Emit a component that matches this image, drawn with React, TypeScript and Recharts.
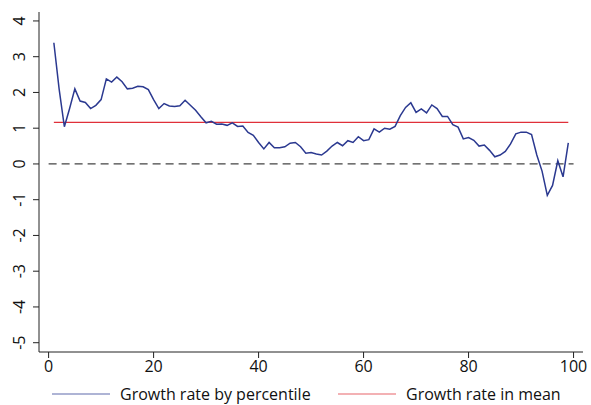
import React from 'react';
import { LineChart, Line, XAxis, YAxis, ReferenceLine, Legend } from 'recharts';

const percentiles = Array.from({ length: 99 }, (_, i) => i + 1);
const growthByPercentile = [
  3.39, 2.1, 1.04, 1.55, 2.1, 1.76, 1.72, 1.55, 1.64, 1.8,
  2.38, 2.29, 2.43, 2.3, 2.1, 2.12, 2.17, 2.16, 2.08, 1.8,
  1.55, 1.69, 1.62, 1.61, 1.63, 1.78, 1.64, 1.5, 1.32, 1.15,
  1.19, 1.11, 1.12, 1.08, 1.15, 1.05, 1.06, 0.88, 0.8, 0.6,
  0.42, 0.6, 0.45, 0.45, 0.48, 0.58, 0.6, 0.48, 0.3, 0.32,
  0.28, 0.25, 0.36, 0.5, 0.6, 0.51, 0.65, 0.6, 0.76, 0.65,
  0.68, 0.98, 0.89, 1.0, 0.97, 1.05, 1.35, 1.58, 1.71, 1.44,
  1.54, 1.43, 1.65, 1.55, 1.33, 1.33, 1.1, 1.03, 0.7, 0.74,
  0.66, 0.5, 0.53, 0.38, 0.2, 0.25, 0.35, 0.56, 0.84, 0.89,
  0.89, 0.82, 0.25, -0.2, -0.88, -0.6, 0.09, -0.36, 0.59,
];
const meanGrowth = 1.16;
const xTicks = [0, 20, 40, 60, 80, 100];
const yTicks = [-5, -4, -3, -2, -1, 0, 1, 2, 3, 4];

const data = percentiles.map((p, i) => ({ p, growth: growthByPercentile[i], mean: meanGrowth }));

const font = '"Open Sans", sans-serif';
const blue = '#2b3990';
const red = '#e0303a';

const YTick = ({ x, y, payload }: any) => (
  <text x={x - 6} y={y} transform={`rotate(-90, ${x - 6}, ${y})`} textAnchor="middle"
    fontFamily={font} fontSize={16} fill="#111">
    {payload.value}
  </text>
);

const renderLegend = () => (
  <div style={{ display: 'flex', fontFamily: font, fontSize: 16, lineHeight: '20px', color: '#111', whiteSpace: 'nowrap' }}>
    <div style={{ width: 286, display: 'flex', alignItems: 'center' }}>
      <svg width={58} height={4}><line x1={0} y1={2} x2={58} y2={2} stroke={blue} strokeWidth={1.2} opacity={0.75} /></svg>
      <span style={{ marginLeft: 10 }}>Growth rate by percentile</span>
    </div>
    <div style={{ display: 'flex', alignItems: 'center' }}>
      <svg width={58} height={4}><line x1={0} y1={2} x2={58} y2={2} stroke={red} strokeWidth={1.2} opacity={0.75} /></svg>
      <span style={{ marginLeft: 10 }}>Growth rate in mean</span>
    </div>
  </div>
);

export default function App() {
  return (
    <div style={{ position: 'absolute', left: 0, top: 0, background: '#fff' }}>
      <LineChart width={591} height={405} data={data} margin={{ top: 12, right: 8, bottom: 0, left: 0 }}>
        <XAxis dataKey="p" type="number" domain={[-1.83, 101.8]} ticks={xTicks} allowDataOverflow
          height={53} tickSize={6} tickMargin={3} stroke="#222"
          tick={{ fontFamily: font, fontSize: 16, fill: '#111' }} />
        <XAxis xAxisId="top" orientation="top" dataKey="p" type="number" domain={[-1.83, 101.8]}
          height={0} tick={false} tickLine={false} stroke="#222" />
        <YAxis type="number" domain={[-5.26, 4.25]} ticks={yTicks} allowDataOverflow
          width={39} tickSize={6} stroke="#222" tick={<YTick />} />
        <YAxis yAxisId="right" orientation="right" type="number" domain={[-5.26, 4.25]}
          width={0} tick={false} tickLine={false} stroke="#222" />
        <ReferenceLine segment={[{ x: 0, y: 0 }, { x: 100, y: 0 }]} stroke="#444" strokeWidth={1.2} strokeDasharray="8 5" />
        <Line dataKey="mean" stroke={red} strokeWidth={1.3} dot={false} isAnimationActive={false} />
        <Line dataKey="growth" stroke={blue} strokeWidth={1.5} dot={false} isAnimationActive={false} />
        <Legend layout="horizontal" verticalAlign="middle" align="center" content={renderLegend}
          wrapperStyle={{ left: 52, top: 384, width: 539, height: 20 }} />
      </LineChart>
    </div>
  );
}
